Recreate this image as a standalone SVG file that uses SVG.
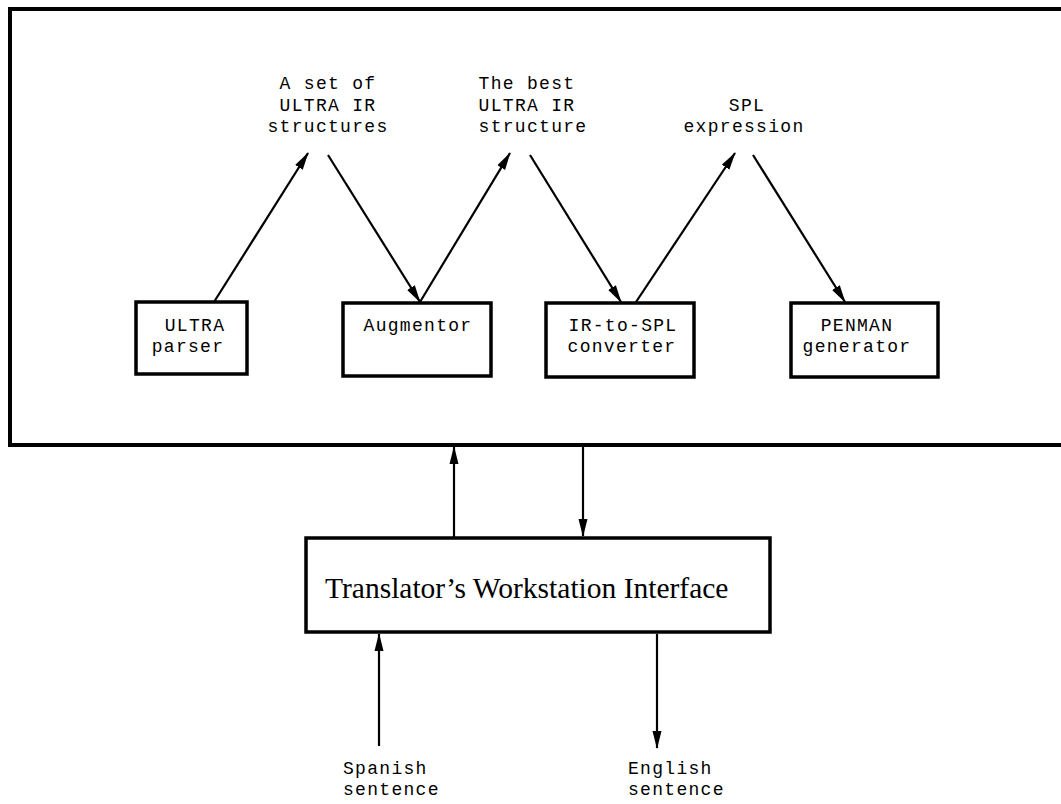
<svg xmlns="http://www.w3.org/2000/svg" width="1061" height="804" viewBox="0 0 1061 804">
<style>
.box{fill:#fff;stroke:#000;stroke-width:3.5}
.frame{fill:none;stroke:#000;stroke-width:4}
.mono{font-family:"Liberation Mono","DejaVu Sans Mono",monospace;font-size:18px;letter-spacing:1.3px;fill:#000}
.serif{font-family:"Liberation Serif","Times New Roman",serif;font-size:29.5px;fill:#000}
.conn line{stroke:#000;stroke-width:2.2;marker-end:url(#ah)}
</style>
<defs>
<marker id="ah" markerUnits="userSpaceOnUse" markerWidth="18" markerHeight="10" refX="17" refY="5" orient="auto">
<path d="M0,0.5 L18,5 L0,9.5 z" fill="#000"/>
</marker>
</defs>
<rect id="frame" class="frame" x="10" y="9" width="1060" height="436"/>
<g id="label-set" class="mono" text-anchor="middle">
<text x="328" y="89">A set of</text>
<text x="328" y="110.5">ULTRA IR</text>
<text x="328" y="132">structures</text>
</g>
<g id="label-best" class="mono" text-anchor="middle">
<text x="527" y="89">The best</text>
<text x="527" y="110.5">ULTRA IR</text>
<text x="533" y="132">structure</text>
</g>
<g id="label-spl" class="mono" text-anchor="middle">
<text x="747" y="110.5">SPL</text>
<text x="744" y="132">expression</text>
</g>
<g id="parser">
<rect class="box" x="136" y="302" width="111" height="72"/>
<text class="mono" text-anchor="middle" x="195" y="331">ULTRA</text>
<text class="mono" text-anchor="middle" x="188" y="352">parser</text>
</g>
<g id="augmentor">
<rect class="box" x="343" y="303" width="148" height="73"/>
<text class="mono" text-anchor="middle" x="418" y="331">Augmentor</text>
</g>
<g id="converter">
<rect class="box" x="546" y="303" width="148" height="74"/>
<text class="mono" text-anchor="middle" x="623" y="331">IR-to-SPL</text>
<text class="mono" text-anchor="middle" x="622" y="352">converter</text>
</g>
<g id="generator">
<rect class="box" x="791" y="303" width="147" height="74"/>
<text class="mono" text-anchor="middle" x="857" y="331">PENMAN</text>
<text class="mono" text-anchor="middle" x="857" y="352">generator</text>
</g>
<g id="twi">
<rect class="box" x="306" y="538" width="464" height="94"/>
<text class="serif" x="325" y="598">Translator’s Workstation Interface</text>
</g>
<g id="spanish" class="mono">
<text x="343" y="774">Spanish</text>
<text x="343" y="795">sentence</text>
</g>
<g id="english" class="mono">
<text x="628" y="774">English</text>
<text x="628" y="795">sentence</text>
</g>
<g id="connectors" class="conn">
<line x1="214" y1="302" x2="308" y2="153"/>
<line x1="328" y1="155" x2="420" y2="302"/>
<line x1="420" y1="302" x2="510" y2="153"/>
<line x1="530" y1="155" x2="621" y2="302"/>
<line x1="636" y1="302" x2="735" y2="153"/>
<line x1="753" y1="155" x2="845" y2="302"/>
<line x1="454" y1="537" x2="454" y2="447"/>
<line x1="583" y1="447" x2="583" y2="536"/>
<line x1="379" y1="746" x2="379" y2="634"/>
<line x1="657" y1="634" x2="657" y2="748"/>
</g>
</svg>
